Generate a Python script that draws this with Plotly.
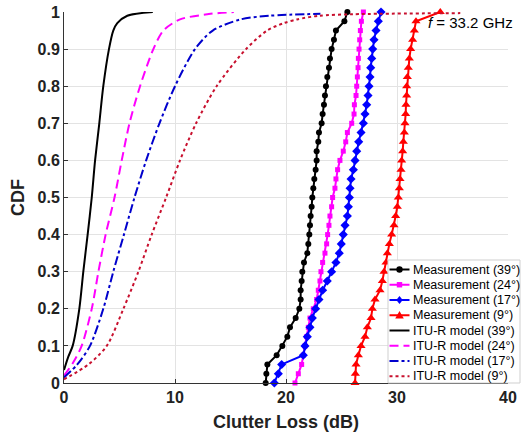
import plotly.graph_objects as go

# CDF levels for measured data (41 points, step 0.025)
cdf_meas = [round(k * 0.025, 3) for k in range(41)]

meas_39 = [18.17, 18.23, 18.32, 19.16, 19.67, 20.12, 20.36, 20.87, 21.2, 21.32, 21.32, 21.41, 21.47, 21.62,
           21.92, 22.01, 22.1, 22.16, 22.22, 22.31, 22.37, 22.46, 22.55, 22.67, 22.76, 22.76, 22.91, 22.97,
           23.21, 23.3, 23.42, 23.51, 23.6, 23.72, 23.87, 23.96, 24.11, 24.32, 24.5, 25.26, 25.53]
meas_24 = [20.81, 21.11, 21.41, 21.56, 21.71, 21.86, 22.01, 22.16, 22.46, 22.76, 22.91, 23.06, 23.15, 23.3,
           23.51, 23.66, 23.75, 23.87, 23.96, 24.11, 24.2, 24.41, 24.5, 24.65, 24.86, 25.16, 25.38, 25.53,
           25.92, 26.13, 26.16, 26.31, 26.37, 26.43, 26.49, 26.52, 26.58, 26.64, 26.7, 26.79, 26.97]
meas_17 = [18.95, 19.31, 19.61, 21.56, 21.71, 21.92, 22.16, 22.37, 22.67, 22.97, 23.3, 23.72, 24.11, 24.5,
           24.8, 24.98, 25.16, 25.32, 25.53, 25.62, 25.71, 25.77, 25.86, 26.07, 26.22, 26.37, 26.55, 26.76,
           26.97, 27.12, 27.27, 27.39, 27.48, 27.57, 27.63, 27.72, 27.81, 27.93, 28.11, 28.32, 28.56]
meas_9 = [26.22, 26.25, 26.31, 26.52, 26.76, 27.12, 27.33, 27.66, 27.78, 28.02, 28.47, 28.68, 28.83, 29.01,
          29.13, 29.31, 29.52, 29.73, 29.88, 30.03, 30.12, 30.21, 30.27, 30.36, 30.42, 30.51, 30.57, 30.66,
          30.72, 30.78, 30.81, 30.87, 30.87, 30.93, 31.02, 31.11, 31.23, 31.41, 31.56, 31.71, 33.9]

# ITU-R model curves
itu39_x = [0, 0.39, 0.78, 1.38, 1.74, 2.13, 2.5, 2.8, 3.18, 3.54, 4.05, 4.44, 4.8, 5.7, 8.0]
itu39_y = [0.035, 0.071, 0.1, 0.2, 0.3, 0.4, 0.5, 0.6, 0.7, 0.8, 0.9, 0.95, 0.97, 0.99, 1.0]
itu24_x = [0, 0.8, 1.59, 2.5, 3.1, 3.75, 4.55, 5.2, 5.9, 6.85, 8.05, 8.95, 10.45, 13.2, 15.3]
itu24_y = [0.02, 0.054, 0.1, 0.2, 0.3, 0.4, 0.5, 0.6, 0.7, 0.8, 0.9, 0.95, 0.98, 0.995, 1.0]
itu17_x = [0, 1.2, 2.34, 3.54, 4.44, 5.4, 6.35, 7.4, 8.6, 10.0, 11.8, 13.4, 15.9, 18.5, 23.1]
itu17_y = [0.015, 0.05, 0.1, 0.2, 0.3, 0.4, 0.5, 0.6, 0.7, 0.8, 0.9, 0.95, 0.98, 0.99, 0.995]
itu9_x = [0, 2.2, 3.85, 5.35, 6.7, 7.9, 9.2, 10.45, 11.9, 13.75, 16.4, 18.3, 19.8, 21.0, 23.0, 26.0, 35.7]
itu9_y = [0.01, 0.05, 0.1, 0.2, 0.3, 0.4, 0.5, 0.6, 0.7, 0.8, 0.9, 0.95, 0.97, 0.98, 0.99, 0.994, 0.997]

FONT = "Liberation Sans, Arial, sans-serif"
W, H = 522, 438
ML, MR, MT, MB = 64, 14, 12, 55
PW, PH = W - ML - MR, H - MT - MB

fig = go.Figure()

meas = [
    ("Measurement (39°)", meas_39, "#000000", "circle", 6),
    ("Measurement (24°)", meas_24, "#ff00ff", "square", 5),
    ("Measurement (17°)", meas_17, "#0000ff", "diamond", 7),
    ("Measurement (9°)", meas_9, "#ff0000", "triangle-up", 8),
]
for name, xs, col, sym, sz in meas:
    fig.add_trace(go.Scatter(x=xs, y=cdf_meas, name=name, mode="lines+markers",
                             line=dict(color=col, width=2),
                             marker=dict(symbol=sym, size=sz, color=col),
                             cliponaxis=False, showlegend=False))

itu = [
    ("ITU-R model (39°)", itu39_x, itu39_y, "#000000", "solid"),
    ("ITU-R model (24°)", itu24_x, itu24_y, "#ff00ff", "9px,5px"),
    ("ITU-R model (17°)", itu17_x, itu17_y, "#0000cc", "dashdot"),
    ("ITU-R model (9°)", itu9_x, itu9_y, "#c8102e", "dot"),
]
for name, xs, ys, col, dash in itu:
    fig.add_trace(go.Scatter(x=xs, y=ys, name=name, mode="lines",
                             line=dict(color=col, width=2, dash=dash, shape="spline", smoothing=0.8),
                             cliponaxis=False, showlegend=False))

# ---- compact legend (layout shapes + text), positioned in pixels ----
def px(xp):
    return (xp - ML) / PW

def py(yp):
    return (H - MB - yp) / PH

shapes = []
annotations = []
box_l, box_t, box_r, box_b = 388, 260, 520, 383
shapes.append(dict(type="rect", xref="paper", yref="paper", layer="above",
                   x0=px(box_l), x1=px(box_r), y0=py(box_b), y1=py(box_t),
                   fillcolor="white", line=dict(color="#cfcfcf", width=1)))
row0, dy = 269.5, 15.25
s0, s1, tx = 389.5, 409.5, 410.5
entries = [(m[0], m[2], "solid", m[3], m[4]) for m in meas] + \
          [(i[0], i[3], i[4], None, 0) for i in itu]
for k, (name, col, dash, sym, sz) in enumerate(entries):
    yc = row0 + k * dy
    shapes.append(dict(type="line", xref="paper", yref="paper", layer="above",
                       x0=px(s0), x1=px(s1), y0=py(yc), y1=py(yc),
                       line=dict(color=col, width=2, dash=dash)))
    xc = (s0 + s1) / 2
    if sym == "circle":
        r = 3.2
        shapes.append(dict(type="circle", xref="paper", yref="paper", layer="above",
                           x0=px(xc - r), x1=px(xc + r), y0=py(yc + r), y1=py(yc - r),
                           fillcolor=col, line=dict(color=col, width=0)))
    elif sym == "square":
        r = 2.7
        shapes.append(dict(type="rect", xref="paper", yref="paper", layer="above",
                           x0=px(xc - r), x1=px(xc + r), y0=py(yc + r), y1=py(yc - r),
                           fillcolor=col, line=dict(color=col, width=0)))
    elif sym == "diamond":
        r = 4.0
        pts = [(xc, yc - r), (xc + r * 0.8, yc), (xc, yc + r), (xc - r * 0.8, yc)]
        path = "M " + " L ".join(f"{px(a):.5f},{py(b):.5f}" for a, b in pts) + " Z"
        shapes.append(dict(type="path", xref="paper", yref="paper", layer="above", path=path,
                           fillcolor=col, line=dict(color=col, width=0)))
    elif sym == "triangle-up":
        r = 4.3
        pts = [(xc, yc - r), (xc + r, yc + r * 0.75), (xc - r, yc + r * 0.75)]
        path = "M " + " L ".join(f"{px(a):.5f},{py(b):.5f}" for a, b in pts) + " Z"
        shapes.append(dict(type="path", xref="paper", yref="paper", layer="above", path=path,
                           fillcolor=col, line=dict(color=col, width=0)))
    annotations.append(dict(text=name, xref="paper", yref="paper", x=px(tx), y=py(yc),
                            xanchor="left", yanchor="middle", showarrow=False,
                            font=dict(family=FONT, size=12.5, color="#000000")))

annotations.append(dict(text="<i>f</i> = 33.2 GHz", xref="paper", yref="paper",
                        x=px(426), y=py(23), xanchor="left", yanchor="middle", showarrow=False,
                        font=dict(family=FONT, size=15, color="#000000")))

axis_common = dict(showgrid=True, gridcolor="#e3e3e3", gridwidth=1, zeroline=False,
                   showline=True, linecolor="#333333", linewidth=1, ticks="inside", ticklen=4,
                   tickcolor="#333333", mirror=False, automargin=False,
                   tickfont=dict(family=FONT, size=16, color="#222222", weight="bold"))

fig.update_layout(
    width=W, height=H,
    margin=dict(l=ML, r=MR, t=MT, b=MB, autoexpand=False),
    plot_bgcolor="white", paper_bgcolor="white",
    hovermode=False,
    xaxis=dict(range=[0, 40], tickvals=[0, 10, 20, 30, 40],
               title=dict(text="Clutter Loss (dB)", standoff=10,
                          font=dict(family=FONT, size=18, color="#222222", weight="bold")),
               **axis_common),
    yaxis=dict(range=[0, 1], dtick=0.1,
               title=dict(text="CDF", standoff=8,
                          font=dict(family=FONT, size=18, color="#222222", weight="bold")),
               **axis_common),
    shapes=shapes,
    annotations=annotations,
    showlegend=False,
)

fig.write_html("out.html", config={"displayModeBar": False},
               post_script="document.body.style.margin='0';document.body.style.overflow='hidden';")
